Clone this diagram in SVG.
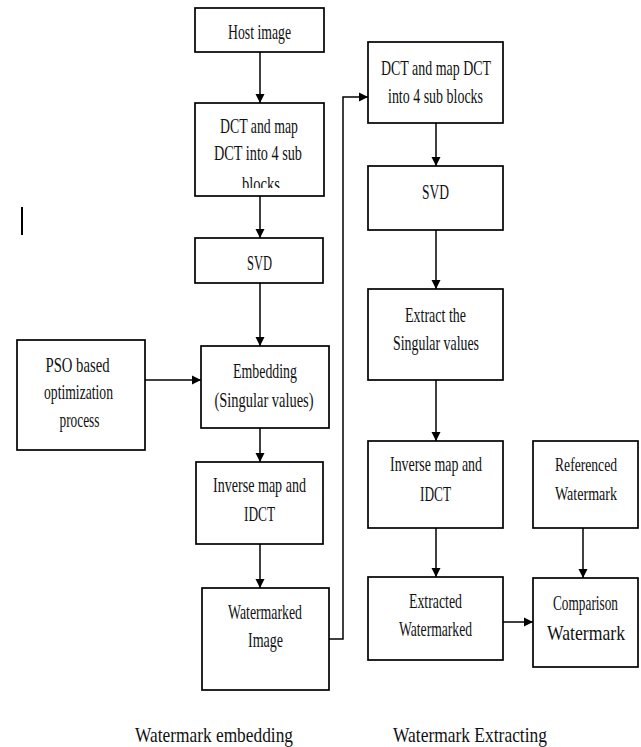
<svg xmlns="http://www.w3.org/2000/svg" width="641" height="747" viewBox="0 0 641 747">
<style>
.box{fill:#fff;stroke:#000;stroke-width:1.7}
.t{font-family:"Liberation Serif","Times New Roman",serif;font-size:21px;fill:#111;text-anchor:middle}
.s{font-size:19px}
.c{stroke:#000;stroke-width:1.5;fill:none}
</style>
<defs>
<marker id="ah" viewBox="0 0 10 10" refX="10" refY="5" markerWidth="9" markerHeight="10" markerUnits="userSpaceOnUse" orient="auto">
<path d="M0,0 L10,5 L0,10 z" fill="#000"/>
</marker>
<clipPath id="clipDct"><rect x="195" y="103" width="129" height="85"/></clipPath>
</defs>
<rect width="641" height="747" fill="#fff"/>
<line x1="22" y1="207" x2="22" y2="235" stroke="#000" stroke-width="2"/>
<g id="connectors">
<line class="c" x1="260" y1="52" x2="260" y2="103" marker-end="url(#ah)"/>
<line class="c" x1="260" y1="196" x2="260" y2="238" marker-end="url(#ah)"/>
<line class="c" x1="260" y1="283" x2="260" y2="346" marker-end="url(#ah)"/>
<line class="c" x1="145" y1="380" x2="201" y2="380" marker-end="url(#ah)"/>
<line class="c" x1="260" y1="428" x2="260" y2="462" marker-end="url(#ah)"/>
<line class="c" x1="260" y1="544" x2="260" y2="588" marker-end="url(#ah)"/>
<polyline class="c" points="329,639 343,639 343,97 368,97" marker-end="url(#ah)"/>
<line class="c" x1="436" y1="123" x2="436" y2="166" marker-end="url(#ah)"/>
<line class="c" x1="436" y1="230" x2="436" y2="289" marker-end="url(#ah)"/>
<line class="c" x1="436" y1="380" x2="436" y2="441" marker-end="url(#ah)"/>
<line class="c" x1="436" y1="528" x2="436" y2="577" marker-end="url(#ah)"/>
<line class="c" x1="583" y1="528" x2="583" y2="578" marker-end="url(#ah)"/>
<line class="c" x1="503" y1="622" x2="533" y2="622" marker-end="url(#ah)"/>
</g>
<g id="host">
<rect class="box" x="195" y="8" width="129" height="44"/>
<text class="t" x="259.5" y="39" textLength="63" lengthAdjust="spacingAndGlyphs">Host image</text>
</g>
<g id="dct1">
<rect class="box" x="195" y="103" width="129" height="93"/>
<text class="t" x="259" y="133" textLength="78" lengthAdjust="spacingAndGlyphs">DCT and map</text>
<text class="t" x="258" y="160" textLength="88" lengthAdjust="spacingAndGlyphs">DCT into 4 sub</text>
<text class="t" x="261" y="191" textLength="38" lengthAdjust="spacingAndGlyphs" clip-path="url(#clipDct)">blocks</text>
</g>
<g id="svd1">
<rect class="box" x="195" y="238" width="128" height="45"/>
<text class="t" x="259.5" y="270" textLength="25" lengthAdjust="spacingAndGlyphs">SVD</text>
</g>
<g id="pso">
<rect class="box" x="17" y="340" width="128" height="110"/>
<text class="t" x="77.5" y="372" textLength="64" lengthAdjust="spacingAndGlyphs">PSO based</text>
<text class="t" x="78.5" y="399" textLength="69" lengthAdjust="spacingAndGlyphs">optimization</text>
<text class="t" x="79.5" y="427" textLength="40" lengthAdjust="spacingAndGlyphs">process</text>
</g>
<g id="embed">
<rect class="box" x="201" y="346" width="128" height="82"/>
<text class="t" x="265" y="378" textLength="64" lengthAdjust="spacingAndGlyphs">Embedding</text>
<text class="t" x="264" y="407" textLength="99" lengthAdjust="spacingAndGlyphs">(Singular values)</text>
</g>
<g id="inv1">
<rect class="box" x="196" y="462" width="127" height="82"/>
<text class="t" x="259.5" y="492" textLength="93" lengthAdjust="spacingAndGlyphs">Inverse map and</text>
<text class="t" x="259.5" y="521" textLength="31" lengthAdjust="spacingAndGlyphs">IDCT</text>
</g>
<g id="wmimg">
<rect class="box" x="202" y="588" width="127" height="102"/>
<text class="t" x="265" y="619" textLength="74" lengthAdjust="spacingAndGlyphs">Watermarked</text>
<text class="t" x="265.5" y="647" textLength="35" lengthAdjust="spacingAndGlyphs">Image</text>
</g>
<g id="dct2">
<rect class="box" x="368" y="42" width="135" height="81"/>
<text class="t" x="436" y="75" textLength="110" lengthAdjust="spacingAndGlyphs">DCT and map DCT</text>
<text class="t" x="435.5" y="103" textLength="95" lengthAdjust="spacingAndGlyphs">into 4 sub blocks</text>
</g>
<g id="svd2">
<rect class="box" x="368" y="166" width="135" height="64"/>
<text class="t" x="435.5" y="199" textLength="27" lengthAdjust="spacingAndGlyphs">SVD</text>
</g>
<g id="extract">
<rect class="box" x="368" y="289" width="135" height="91"/>
<text class="t" x="435.5" y="322" textLength="61" lengthAdjust="spacingAndGlyphs">Extract the</text>
<text class="t" x="436" y="350" textLength="86" lengthAdjust="spacingAndGlyphs">Singular values</text>
</g>
<g id="inv2">
<rect class="box" x="368" y="441" width="135" height="87"/>
<text class="t" x="436" y="471" textLength="92" lengthAdjust="spacingAndGlyphs">Inverse map and</text>
<text class="t" x="435.5" y="501" textLength="31" lengthAdjust="spacingAndGlyphs">IDCT</text>
</g>
<g id="extracted">
<rect class="box" x="368" y="577" width="135" height="83"/>
<text class="t" x="435.5" y="608" textLength="53" lengthAdjust="spacingAndGlyphs">Extracted</text>
<text class="t" x="435.5" y="636" textLength="73" lengthAdjust="spacingAndGlyphs">Watermarked</text>
</g>
<g id="ref">
<rect class="box" x="533" y="441" width="105" height="87"/>
<text class="t s" x="586" y="471" textLength="62" lengthAdjust="spacingAndGlyphs">Referenced</text>
<text class="t s" x="586" y="500" textLength="62" lengthAdjust="spacingAndGlyphs">Watermark</text>
</g>
<g id="compare">
<rect class="box" x="533" y="578" width="105" height="89"/>
<text class="t" x="585.5" y="610" font-size="18" textLength="65" lengthAdjust="spacingAndGlyphs">Comparison</text>
<text class="t" x="586" y="640" font-size="22" textLength="78" lengthAdjust="spacingAndGlyphs">Watermark</text>
</g>
<text class="t" x="214" y="742" textLength="158" lengthAdjust="spacingAndGlyphs">Watermark embedding</text>
<text class="t" x="470" y="742" textLength="154" lengthAdjust="spacingAndGlyphs">Watermark Extracting</text>
</svg>
